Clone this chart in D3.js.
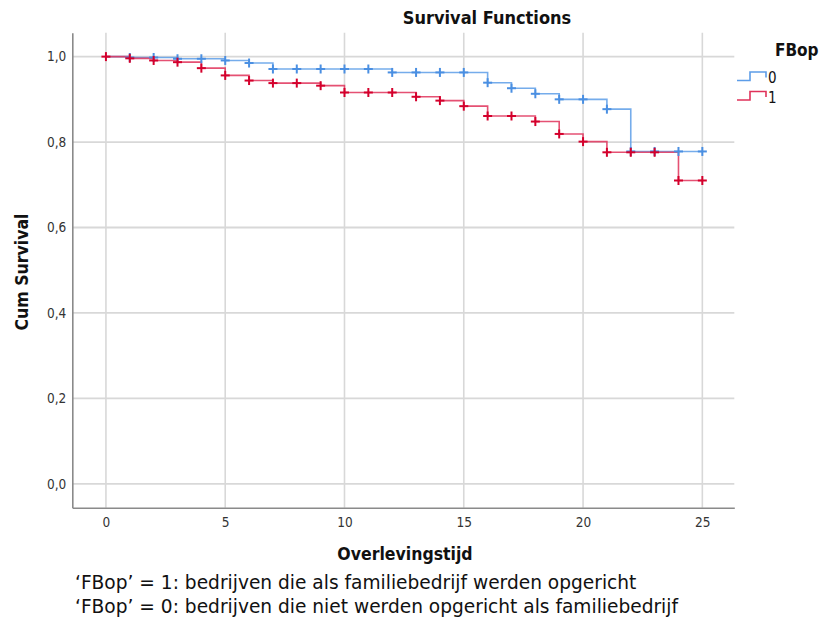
<!DOCTYPE html>
<html>
<head>
<meta charset="utf-8">
<script src="https://cdn.jsdelivr.net/npm/d3@7"></script>
<style>
  body { margin: 0; background: #fff; }
  .cond { font-family: "DejaVu Sans Condensed", "DejaVu Sans", sans-serif; font-stretch: condensed; }
  .foot { font-family: "DejaVu Sans", Verdana, sans-serif; font-size: 18.6px; fill: #111; }
</style>
</head>
<body>
<div id="chart"></div>
<script>
// Kaplan-Meier steps per group: event time and survival after it
const groups = ['0', '1'];
const times0 = [0, 1, 3, 5, 6, 7, 12, 16, 17, 18, 19, 21, 22, 25];
const surv0 = [1, 0.998, 0.995, 0.991, 0.985, 0.971, 0.963, 0.939, 0.926, 0.913, 0.900, 0.877, 0.778, 0.778];
const censor0 = [1, 2, 3, 4, 5, 6, 7, 8, 9, 10, 11, 12, 13, 14, 15, 16, 17, 18, 19, 20, 21, 22, 23, 24, 25];

const times1 = [0, 1, 2, 3, 4, 5, 6, 7, 9, 10, 13, 14, 15, 16, 18, 19, 20, 21, 24, 25];
const surv1 = [1, 0.996, 0.991, 0.987, 0.973, 0.956, 0.944, 0.938, 0.932, 0.916, 0.906, 0.897, 0.884, 0.861, 0.848, 0.819, 0.801, 0.776, 0.710, 0.710];
const censor1 = [0, 1, 2, 3, 4, 5, 6, 7, 8, 9, 10, 11, 12, 13, 14, 15, 16, 17, 18, 19, 20, 21, 22, 23, 24, 25];

const xTicks = [0, 5, 10, 15, 20, 25];
const yTicks = [0, 0.2, 0.4, 0.6, 0.8, 1.0];

const W = 821, H = 619;
const svg = d3.select('#chart').append('svg')
    .attr('width', W)
    .attr('height', H);

const x = d3.scaleLinear().domain([-1.41, 26.34]).range([72.3, 734.3]);
const y = d3.scaleLinear().domain([-0.056, 1.056]).range([507.7, 32.7]);

const lineColor = { '0': '#5d9de8', '1': '#e0325a' };
const markColor = { '0': '#4a8fe2', '1': '#d4002c' };

// grid
svg.append('g').selectAll('line.vg')
    .data(xTicks)
    .join('line')
    .attr('x1', d => x(d)).attr('x2', d => x(d))
    .attr('y1', y.range()[1]).attr('y2', y.range()[0])
    .attr('stroke', '#d8d8d8').attr('stroke-width', 1.6);

svg.append('g').selectAll('line.hg')
    .data(yTicks)
    .join('line')
    .attr('x1', x.range()[0]).attr('x2', x.range()[1])
    .attr('y1', d => y(d)).attr('y2', d => y(d))
    .attr('stroke', '#d8d8d8').attr('stroke-width', 1.8);

// axes
svg.append('g')
    .attr('transform', `translate(0,${y.range()[0]})`)
    .call(d3.axisBottom(x).tickValues(xTicks).tickSize(0).tickPadding(10).tickFormat(d3.format('d')))
    .call(g => g.select('.domain').attr('stroke', '#8a8a8a').attr('stroke-width', 1.6))
    .call(g => g.selectAll('text').attr('class', 'cond').style('font-size', '13.5px').attr('fill', '#333'));

svg.append('g')
    .attr('transform', `translate(${x.range()[0]},0)`)
    .call(d3.axisLeft(y).tickValues(yTicks).tickSize(0).tickPadding(6).tickFormat(d => d3.format('.1f')(d).replace('.', ',')))
    .call(g => g.select('.domain').attr('stroke', '#8a8a8a').attr('stroke-width', 1.6))
    .call(g => g.selectAll('text').attr('class', 'cond').style('font-size', '13.5px').attr('fill', '#333'));

// survival curves
const series = [
    { key: '0', times: times0, surv: surv0, censor: censor0 },
    { key: '1', times: times1, surv: surv1, censor: censor1 }
];

function survAt(s, t) {
    let v = s.surv[0];
    s.times.forEach((tt, i) => { if (tt <= t) v = s.surv[i]; });
    return v;
}

const step = d3.line()
    .x(d => x(d[0]))
    .y(d => y(d[1]))
    .curve(d3.curveStepAfter);

series.forEach(s => {
    svg.append('path')
        .datum(s.times.map((t, i) => [t, s.surv[i]]))
        .attr('d', step)
        .attr('fill', 'none')
        .attr('stroke', lineColor[s.key])
        .attr('stroke-width', 1.6)
        .attr('stroke-opacity', 0.85);
});

series.forEach(s => {
    const m = svg.append('g').selectAll('g')
        .data(s.censor)
        .join('g')
        .attr('transform', t => `translate(${x(t)},${y(survAt(s, t))})`);
    m.append('line').attr('x1', -4.5).attr('x2', 4.5).attr('y1', 0).attr('y2', 0)
        .attr('stroke', markColor[s.key]).attr('stroke-width', 2);
    m.append('line').attr('x1', 0).attr('x2', 0).attr('y1', -4.5).attr('y2', 4.5)
        .attr('stroke', markColor[s.key]).attr('stroke-width', 2);
});

// titles
svg.append('text')
    .attr('class', 'cond')
    .attr('x', 487).attr('y', 24)
    .attr('text-anchor', 'middle')
    .style('font-size', '18px').style('font-weight', 'bold')
    .attr('fill', '#111')
    .text('Survival Functions');

svg.append('text')
    .attr('class', 'cond')
    .attr('x', 405).attr('y', 560)
    .attr('text-anchor', 'middle')
    .style('font-size', '17.5px').style('font-weight', 'bold')
    .attr('fill', '#111')
    .text('Overlevingstijd');

svg.append('text')
    .attr('class', 'cond')
    .attr('transform', 'translate(28,272) rotate(-90)')
    .attr('text-anchor', 'middle')
    .style('font-size', '17.5px').style('font-weight', 'bold')
    .attr('fill', '#111')
    .text('Cum Survival');

// legend
svg.append('text')
    .attr('class', 'cond')
    .attr('x', 775).attr('y', 56)
    .style('font-size', '17px').style('font-weight', 'bold')
    .attr('fill', '#111')
    .text('FBop');

groups.forEach((g, i) => {
    const oy = 80.5 + i * 19.5;
    svg.append('path')
        .attr('d', `M737,${oy}H750V${oy - 8.5}H766V${oy - 3}`)
        .attr('fill', 'none')
        .attr('stroke', lineColor[g])
        .attr('stroke-width', 1.6);
    svg.append('text')
        .attr('class', 'cond')
        .attr('x', 768).attr('y', oy + 2.5)
        .style('font-size', '15px')
        .attr('fill', '#111')
        .text(g);
});

// footnote
const notes = [
    '\u2018FBop\u2019 = 1: bedrijven die als familiebedrijf werden opgericht',
    '\u2018FBop\u2019 = 0: bedrijven die niet werden opgericht als familiebedrijf'
];
svg.append('g').selectAll('text')
    .data(notes)
    .join('text')
    .attr('class', 'foot')
    .attr('x', 75)
    .attr('y', (d, i) => 589 + i * 24)
    .text(d => d);
</script>
</body>
</html>
